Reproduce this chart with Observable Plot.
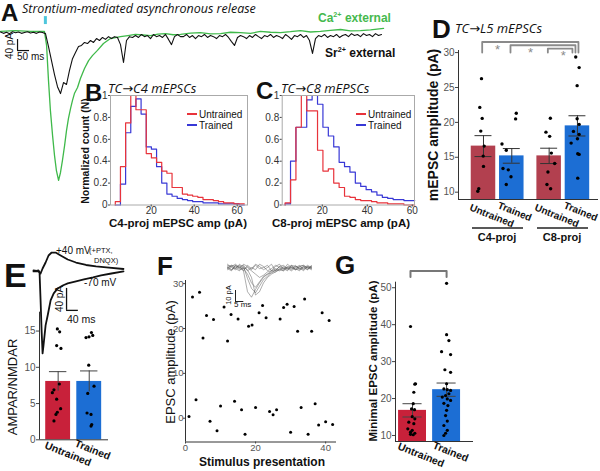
<!DOCTYPE html>
<html><head><meta charset="utf-8">
<script src="https://cdn.jsdelivr.net/npm/d3@7"></script>
<script src="https://cdn.jsdelivr.net/npm/@observablehq/plot@0.6"></script>
<style>
html,body{margin:0;padding:0;background:#fff;}
#fig{position:relative;width:600px;height:471px;overflow:hidden;background:#fff;}
.p{position:absolute;}
</style></head><body><div id="fig"></div>
<script>
// ---------------- DATA ----------------
// A: Sr2+ trace sampled every 12.5 ms (pA)
const aSampleMs = 12.5;
const aSrTrace = [2,-3,1,-4,3,-1,2,-3,0,3,-2,1,-3,2,0,
 -4,-51,-102,-153,-197,-222,-182,-189,-138,-95,
 -73,-51,-47,-36,-40,-29,-36,-22,-29,-18,
 -25,-15,-22,-15,-18,-44,-109,-29,-15,-18,
 -11,-18,-7,-15,-11,-22,-7,-15,-11,-18,
 -7,-25,-44,-15,-7,-15,
 -15,-7,-18,-11,-22,-11,-15,-7,-18,-11,
 -15,-22,-11,-15,-7,-18,-33,-47,-18,-11,
 -15,-22,-11,-18,-7,-15,-22,-11,-15,-7,
 -18,-11,-15,-22,-7,-15,-25,-11,-15,-7,
 -18,-11,-29,-76,-22,-11,-15,-7,-18,-11,
 -15,-7,-18,-11,-7,-15,-4,-11,-7,-15,
 -4,-11,-7,-15,-4,-11,-7];
const aCaTimes = [0,62,125,183,192,200,208,217,225,233,242,250,258,267,275,283,292,300,308,321,333,350,367,383,404,429,458,500,531,562,594,625,656,688,719,750,792,833,875,917,958,1000,1042,1083,1125,1167,1208,1250,1292,1333,1375,1417,1458,1500,1542,1596];
const aCaTrace = [4,7,4,4,-47,-175,-284,-375,-447,-502,-538,-509,-466,-411,-357,-313,-276,-247,-222,-200,-167,-131,-102,-84,-65,-40,-22,-15,-11,-7,-9,-11,-6,-4,-8,-7,-2,0,-5,-4,1,0,-3,4,1,0,3,7,2,4,8,11,6,7,10,15];
const aStimMs = 187;
const aStimMark = [29, 58];          // pA extent of the stimulus tick
const aScaleBar = {ms: 71, pA: -65.5, lenMs: 50, lenPA: 40};

// B / C histograms (normalized counts)
const bBinStart = 3.3, bBinWidth = 2.4;
const bUntrained = [0.03,0.35,0.75,1.0,0.87,0.87,0.47,0.43,0.39,0.31,0.29,0.16,0.16,0.10,0.09,0.08,0.07,0.05,0.05,0.04,0.03,0.02,0.02,0.01,0.01];
const bTrained   = [0.0,0.19,0.66,0.9,0.97,0.83,0.53,0.51,0.35,0.2,0.1,0.08,0.06,0.05,0.04,0.03,0.03,0.02,0.02,0.02,0.01,0.01,0.01,0.01,0.0];
const cBinStart = 3.5, cBinWidth = 2.4;
const cUntrained = [0.02,0.23,0.71,1.0,0.86,0.86,0.5,0.31,0.33,0.2,0.16,0.08,0.07,0.05,0.04,0.04,0.03,0.02,0.02,0.01,0.01,0.01,0.0,0.0];
const cTrained   = [0.01,0.4,0.71,0.71,0.96,1.0,0.92,0.71,0.63,0.53,0.39,0.35,0.3,0.2,0.17,0.14,0.12,0.09,0.07,0.06,0.05,0.05,0.04,0.04];
const histTicksY = [0,0.2,0.4,0.6,0.8,1];
const histTicksX = [20,40,60];

// D: TC->L5 mEPSC amplitude
const dProjections = ["C4-proj","C8-proj"];
const dGroups = ["Untrained","Trained"];
const dMeans = [16.6, 15.2, 15.2, 19.5];
const dSems  = [1.5, 1.05, 1.1, 1.45];
const dC4Untrained = [26.27,22.15,20.57,18.75,16.6,15.17,13.69,10.49,10.14];
const dC4UntrainedJit = [-2,-3.7,-1.3,-2.7,0.7,-0.3,0,-4.7,-5.7];
const dC4Trained = [21.3,20.5,16.9,16.0,13.4,13.2,12.2,11.1];
const dC4TrainedJit = [4.5,3.8,-9.8,-5.5,-8.8,-3.5,-0.8,-5.5];
const dC8Untrained = [20.6,18.6,18.0,15.6,14.1,12.9,11.1,10.5];
const dC8UntrainedJit = [1.2,-3.2,0.5,2.2,5.5,-1.2,-2.2,1.5];
const dC8Trained = [29.37,27.85,25.26,20.53,19.71,18.71,18.28,17.66,17.03,15.51,15.41,12.01];
const dC8TrainedJit = [-1.7,1.7,-0.3,-0.3,1.7,-4,1.7,0,-6.3,0.3,1.7,0.3];
const dBracketTops = [31.52, 31.05, 30.57];
const dBracketLeg = 30.0;
const dTicks = [10,15,20,25,30];

// E: AMPAR/NMDAR
const eMeans = [8.05, 8.05];
const eSems = [1.35, 1.45];
const eUntrained = [15.3,14.9,13.0,12.6,7.7,6.9,6.5,5.6,4.3,3.8,3.5,2.6];
const eUntrainedJit = [-0.8,1.5,-1.5,2.8,1.2,-4.2,-5.8,-1.5,2.5,-0.8,-2.2,-4.2];
const eTrained = [14.8,14.4,14.2,14.1,10.3,7.4,6.4,3.7,3.5,2.1,1.9];
const eTrainedJit = [2.2,3.5,-0.2,-3.2,-0.5,4.8,-1.5,-2.2,1.8,2.5,1.8];
const eTicks = [0,5,10,15];
// E inset traces (ms, pA)
const eNeg70Ms = [0,10.3,17,20.5,24,27.4,30.8,34,41,48,58,68.5,82,99,116,144,171,202,229,264,305];
const eNeg70pA = [0,-0.9,0,-3.6,-54.5,-109,-151,-136,-100,-82,-54.5,-41.8,-32.7,-27.3,-23.6,-20,-16.4,-12.7,-9.1,-5.5,-1.8];
const ePos40Ms = [0,17,24,30.8,41,51,61.6,75,92,116,144,178,212,247,305];
const ePos40pA = [-1.8,-1.8,-5.5,3.6,14.5,27.3,32.7,32.7,27.3,20,14.5,10,7.3,5.5,2.7];
const eScaleBar = {ms: 112, pA: -72.7, lenMs: 40, lenPA: 40};

// F: minimal stimulation
const fStim = [1,2,3,4,5,6,7,8,9,10,11,12,13,14,15,16,17,18,19,20,21,22,23,24,25,26,27,28,29,30,31,32,33,34,35,36,37,38,39,40,41,42];
const fAmp = [0.4,27.0,4.1,28.1,17.9,22.9,-0.7,22.0,-2.8,2.7,24.8,17.2,23.1,3.8,22.1,1.9,-3.6,20.5,20.8,2.4,23.5,25.1,22.4,1.5,0.8,1.9,22.1,24.7,25.4,-3.1,24.9,19.4,2.4,26.6,-3.6,19.4,3.2,-1.5,23.5,-0.8,21.8,-1.4];
const fTicksX = [0,20,40], fTicksY = [0,10,20,30];
const fInsetMs = [0,2.4,4.8,7.2,9.6,12,14.4,16.8,19.2,21.6,24,26.4,28.8,31.2,33.6,36,38.4,40.8,43.2,45.6,48,50.4];
const fInset1 = [-2,1,3,0,-3,2,-1,3,1,-2,0,3,-3,1,2,-1,-3,0,2,-2,1,0];
const fInset2 = [1,-2,0,2,-3,-22,-27,-20,-14,-9,-6,-5,-2,-3,0,-2,1,-1,-3,1,0,-2];
const fInset3 = [0,2,-1,-3,1,-10,-19,-23,-17,-11,-8,-4,-4,-1,-3,1,-1,2,-2,-1,2,0];
const fInset4 = [3,0,-2,1,2,-3,0,-2,3,1,-3,-1,2,0,-2,3,0,-2,1,2,-1,1];
const fInset5 = [-1,-3,2,0,-1,-6,-14,-18,-13,-8,-6,-3,-3,1,-1,-3,2,1,-1,0,-2,2];
const fInset6 = [2,1,-1,3,0,-2,-9,-25,-22,-14,-9,-6,-4,-2,-3,0,-2,1,0,-3,1,-1];
const fInset7 = [0,-2,2,-1,3,1,-2,2,-1,0,2,-3,1,3,-1,0,2,-2,-1,1,-2,1];
const fInset8 = [-1,2,1,-2,-1,0,-3,-6,-9,-7,-4,-3,-1,-2,1,-1,0,-2,1,2,0,-1];
const fScaleBar = {ms: 4.8, pA: -30.9, lenMs: 5, lenPA: 10};

// G: minimal EPSC amplitude
const gMeans = [16.8, 22.4];
const gSems = [1.8, 1.8];
const gUntrained = [39.5,24.0,23.9,21.7,18.6,17.2,17.0,15.1,14.5,13.6,13.2,11.8,11.4,10.9,10.6,10.2,10.3];
const gUntrainedJit = [-2,3,2.3,1.3,0.7,-1,2,-0.3,2.3,-3.7,1.3,-4.7,-0.3,-2,2.3,0.7,-2];
const gTrained = [51.2,37.3,35.7,32.7,31.9,27.8,27.1,24.0,22.6,22.4,22.2,21.3,20.8,20.4,19.9,19.5,18.7,18.1,16.8,15.4,13.9,12.7,11.4,10.6,10.0];
const gTrainedJit = [0,0,2.3,-5,4,-1.7,4,0,-2.7,0.7,4,2.3,-1,-4.3,0.7,4,-2.7,1.3,0,-1,0.7,-2.7,0.7,-1,-2.7];
const gTicks = [10,20,30,40,50];
const gBracket = {top: 54.5, leg: 52.9};

// ---------------- STYLE ----------------
const SANS = "'Liberation Sans', Arial, sans-serif";
const colU = "#c8213a", colT = "#1c6ed4", colUD = "#b2404f";
const hRed = "#e8333b", hBlue = "#3838d6";
const baseStyle = {fontFamily: SANS, fontSize: "10px", background: "none", overflow: "visible", color: "#444"};
const fig = document.getElementById("fig");
function place(svg, left, top) {
  const d = document.createElement("div"); d.className = "p";
  d.style.left = left + "px"; d.style.top = top + "px";
  d.style.width = svg.getAttribute("width") + "px";
  svg.style.maxWidth = "none";
  d.appendChild(svg); fig.appendChild(d);
}

// ---------------- A ----------------
{
  const sr = aSrTrace.map((v, i) => ({t: i * aSampleMs, v}));
  const ca = aCaTimes.map((t, i) => ({t, v: aCaTrace[i]}));
  const sb = aScaleBar;
  place(Plot.plot({
    width: 384, height: 172, margin: 0,
    x: {domain: [0, 1600], axis: null}, y: {domain: [-560, 65.6], axis: null},
    style: baseStyle,
    marks: [
      Plot.line(ca, {x: "t", y: "v", stroke: "#3fb94a", strokeWidth: 1.3}),
      Plot.line(sr, {x: "t", y: "v", stroke: "#111", strokeWidth: 1.1}),
      Plot.ruleX([aStimMs], {y1: aStimMark[0], y2: aStimMark[1], stroke: "#4ec6dc", strokeWidth: 3}),
      Plot.ruleX([sb], {x: "ms", y1: "pA", y2: d => d.pA + d.lenPA, stroke: "#111", strokeWidth: 1.2}),
      Plot.ruleY([sb], {y: "pA", x1: "ms", x2: d => d.ms + d.lenMs, stroke: "#111", strokeWidth: 1.2})
    ]
  }), 0, 14);
}

// ---------------- B / C histograms ----------------
function stepPts(vals, start, w) {
  const pts = [{x: start, y: 0}];
  vals.forEach((v, i) => pts.push({x: start + i * w, y: v}));
  pts.push({x: start + vals.length * w, y: vals[vals.length - 1]});
  return pts;
}
function hist(unt, tr, start, w, xdom, left, width, ml, mr) {
  place(Plot.plot({
    width, height: 145,
    marginLeft: ml, marginRight: mr, marginTop: 10, marginBottom: 25.5,
    x: {domain: xdom}, y: {domain: [0, 1]},
    style: baseStyle,
    marks: [
      Plot.line(stepPts(tr, start, w), {x: "x", y: "y", curve: "step-after", stroke: hBlue, strokeWidth: 1.2}),
      Plot.line(stepPts(unt, start, w), {x: "x", y: "y", curve: "step-after", stroke: hRed, strokeWidth: 1.2}),
      Plot.frame({stroke: "#aaa"}),
      Plot.axisX({ticks: histTicksX, tickSize: 2, tickPadding: 0, fill: "#333", label: null}),
      Plot.axisY({ticks: histTicksY, tickSize: 2, tickPadding: 1, fill: "#333", label: null,
        tickFormat: d => d === 0 ? "0" : d === 1 ? "1" : d3.format(".1f")(d)})
    ]
  }), left, 85);
}
hist(bUntrained, bTrained, bBinStart, bBinWidth, [1.07, 64.8], 80, 175, 30, 8);
hist(cUntrained, cTrained, cBinStart, cBinWidth, [2.2, 61.0], 250, 170, 31.7, 6);

// ---------------- D ----------------
{
  const unit = 28.3; // px per bar step
  const pos = (p, g) => g + p * 2.32;
  const bars = dMeans.map((m, i) => ({pos: pos(Math.floor(i / 2), i % 2), mean: m, sem: dSems[i], fill: i % 2 ? colT : colUD}));
  const sets = [[dC4Untrained, dC4UntrainedJit], [dC4Trained, dC4TrainedJit], [dC8Untrained, dC8UntrainedJit], [dC8Trained, dC8TrainedJit]];
  const dots = sets.flatMap(([vals, jit], i) => vals.map((v, k) => ({x: bars[i].pos + jit[k] / unit, y: v})));
  const legOff = [1, -2, -5];
  const brackets = dBracketTops.flatMap((top, i) => {
    const x0 = bars[i].pos - 1.3 / unit, x1 = bars[3].pos + legOff[i] / unit;
    return [{x: x0, y: dBracketLeg, k: i}, {x: x0, y: top, k: i}, {x: x1, y: top, k: i}, {x: x1, y: dBracketLeg, k: i}];
  });
  const stars = dBracketTops.map((top, i) => ({x: (bars[i].pos + bars[i + 1].pos) / 2, y: top}));
  const y0 = 8.95;
  place(Plot.plot({
    width: 180, height: 180, marginLeft: 38, marginRight: 2, marginTop: 20, marginBottom: 11,
    x: {domain: [-0.883, 4.064], axis: null}, y: {domain: [y0, 30.3]},
    style: baseStyle,
    marks: [
      Plot.rectY(bars, {x1: d => d.pos - 0.433, x2: d => d.pos + 0.433, y1: y0, y2: "mean", fill: "fill"}),
      Plot.ruleX(bars, {x: "pos", y1: d => d.mean - d.sem, y2: d => d.mean + d.sem, stroke: "#333"}),
      Plot.ruleY(bars, {y: d => d.mean + d.sem, x1: d => d.pos - 0.3, x2: d => d.pos + 0.3, stroke: "#333"}),
      Plot.ruleY(bars, {y: d => d.mean - d.sem, x1: d => d.pos - 0.3, x2: d => d.pos + 0.3, stroke: "#333"}),
      Plot.dot(dots, {x: "x", y: "y", r: 1.7, fill: "#000"}),
      Plot.ruleY([y0], {stroke: "#333"}),
      Plot.ruleX([-0.883], {stroke: "#333"}),
      Plot.line(brackets, {x: "x", y: "y", z: "k", stroke: "#8a8a8a", strokeWidth: 1.8}),
      Plot.text(stars, {x: "x", y: "y", text: () => "*", fill: "#8a8a8a", fontSize: 13, dy: 7.4}),
      Plot.axisY({ticks: dTicks, tickSize: 3, tickPadding: 1, fill: "#555", label: null})
    ]
  }), 420, 30);
}

// ---------------- E ----------------
{
  const neg = eNeg70Ms.map((t, i) => ({t, v: eNeg70pA[i]}));
  const posT = ePos40Ms.map((t, i) => ({t, v: ePos40pA[i]}));
  const sb = eScaleBar;
  place(Plot.plot({
    width: 90, height: 115, margin: 0,
    x: {domain: [0, 305], axis: null}, y: {domain: [-164, 45.5], axis: null},
    style: baseStyle,
    marks: [
      Plot.line(posT, {x: "t", y: "v", stroke: "#111", strokeWidth: 1.8}),
      Plot.line(neg, {x: "t", y: "v", stroke: "#111", strokeWidth: 1.8}),
      Plot.ruleX([sb], {x: "ms", y1: "pA", y2: d => d.pA + d.lenPA, stroke: "#111", strokeWidth: 1.3}),
      Plot.ruleY([sb], {y: "pA", x1: "ms", x2: d => d.ms + d.lenMs, stroke: "#111", strokeWidth: 1.3})
    ]
  }), 33, 245);

  const unit = 31.08;
  const bars = eMeans.map((m, i) => ({pos: i, mean: m, sem: eSems[i], fill: i ? colT : colU}));
  const dots = [[eUntrained, eUntrainedJit], [eTrained, eTrainedJit]].flatMap(([vals, jit], i) => vals.map((v, k) => ({x: i + jit[k] / unit, y: v})));
  place(Plot.plot({
    width: 105, height: 150, marginLeft: 29, marginRight: 7, marginTop: 11.7, marginBottom: 10.7,
    x: {domain: [-0.6, 1.62], axis: null}, y: {domain: [0, 17.6]},
    style: baseStyle,
    marks: [
      Plot.rectY(bars, {x1: d => d.pos - 0.4, x2: d => d.pos + 0.4, y1: 0, y2: "mean", fill: "fill"}),
      Plot.ruleX(bars, {x: "pos", y1: d => d.mean - d.sem, y2: d => d.mean + d.sem, stroke: "#444"}),
      Plot.ruleY(bars, {y: d => d.mean + d.sem, x1: d => d.pos - 0.28, x2: d => d.pos + 0.28, stroke: "#444"}),
      Plot.dot(dots, {x: "x", y: "y", r: 1.6, fill: "#000"}),
      Plot.ruleY([0], {stroke: "#333"}),
      Plot.ruleX([-0.6], {stroke: "#333"}),
      Plot.axisY({ticks: eTicks, tickSize: 3, tickPadding: 1, fill: "#555", label: null})
    ]
  }), 10, 300);
}

// ---------------- F ----------------
{
  const pts = fStim.map((s, i) => ({x: s, y: fAmp[i]}));
  place(Plot.plot({
    width: 190, height: 185, marginLeft: 35, marginRight: 4, marginTop: 10, marginBottom: 13.5,
    x: {domain: [0, 43.1]}, y: {domain: [-5.3, 30.7]},
    style: {...baseStyle, fontSize: "9.5px"},
    marks: [
      Plot.ruleX([0], {stroke: "#333"}),
      Plot.ruleY([-5.3], {stroke: "#333"}),
      Plot.dot(pts, {x: "x", y: "y", r: 1.5, fill: "#000"}),
      Plot.axisX({ticks: fTicksX, tickSize: 2, tickPadding: 0, fill: "#555", label: null}),
      Plot.axisY({ticks: fTicksY, tickSize: 2, tickPadding: 0, fill: "#555", label: null})
    ]
  }), 150, 270);
  const traces = [fInset1, fInset2, fInset3, fInset4, fInset5, fInset6, fInset7, fInset8]
    .flatMap((tr, k) => tr.map((v, i) => ({t: fInsetMs[i], v, k})));
  const sb = fScaleBar;
  place(Plot.plot({
    width: 85, height: 44, margin: 0,
    x: {domain: [0, 51], axis: null}, y: {domain: [-31.8, 8.2], axis: null},
    style: baseStyle,
    marks: [
      Plot.line(traces, {x: "t", y: "v", z: "k", stroke: "#555", strokeOpacity: 0.6, strokeWidth: 0.8}),
      Plot.ruleX([sb], {x: "ms", y1: "pA", y2: d => d.pA + d.lenPA, stroke: "#222", strokeWidth: 1}),
      Plot.ruleY([sb], {y: "pA", x1: "ms", x2: d => d.ms + d.lenMs, stroke: "#222", strokeWidth: 1})
    ]
  }), 227, 258);
}

// ---------------- G ----------------
{
  const unit = 34;
  const bars = gMeans.map((m, i) => ({pos: i, mean: m, sem: gSems[i], fill: i ? colT : colU}));
  const dots = [[gUntrained, gUntrainedJit], [gTrained, gTrainedJit]].flatMap(([vals, jit], i) => vals.map((v, k) => ({x: i + jit[k] / unit, y: v})));
  const br = [{x: bars[0].pos - 0.06, y: gBracket.leg}, {x: bars[0].pos - 0.06, y: gBracket.top}, {x: bars[1].pos, y: gBracket.top}, {x: bars[1].pos, y: gBracket.leg}];
  const y0 = 8.37;
  place(Plot.plot({
    width: 120, height: 193, marginLeft: 35, marginRight: 7, marginTop: 19.7, marginBottom: 14,
    x: {domain: [-0.5, 1.79], axis: null}, y: {domain: [y0, 51.5]},
    style: baseStyle,
    marks: [
      Plot.rectY(bars, {x1: d => d.pos - 0.41, x2: d => d.pos + 0.41, y1: y0, y2: "mean", fill: "fill"}),
      Plot.ruleX(bars, {x: "pos", y1: d => d.mean - d.sem, y2: d => d.mean + d.sem, stroke: "#444"}),
      Plot.ruleY(bars, {y: d => d.mean + d.sem, x1: d => d.pos - 0.28, x2: d => d.pos + 0.28, stroke: "#444"}),
      Plot.ruleY(bars, {y: d => d.mean - d.sem, x1: d => d.pos - 0.28, x2: d => d.pos + 0.28, stroke: "#444"}),
      Plot.dot(dots, {x: "x", y: "y", r: 1.6, fill: "#000"}),
      Plot.ruleY([y0], {stroke: "#333"}),
      Plot.ruleX([-0.5], {stroke: "#333"}),
      Plot.line(br, {x: "x", y: "y", stroke: "#777", strokeWidth: 2}),
      Plot.axisY({ticks: gTicks, tickSize: 3, tickPadding: 1, fill: "#555", label: null})
    ]
  }), 360, 262);
}

// ---------------- TEXT OVERLAY ----------------
const ov = d3.select(fig).append("svg").attr("width", 600).attr("height", 471)
  .style("position", "absolute").style("left", 0).style("top", 0);
function T(s, x, y, o = {}) {
  const t = ov.append("text").attr("x", x).attr("y", y)
    .attr("font-size", o.size || 11).attr("font-weight", o.bold ? "bold" : "normal")
    .attr("font-style", o.italic ? "italic" : "normal")
    .attr("font-family", o.font || SANS).attr("fill", o.fill || "#111")
    .attr("text-anchor", o.anchor || "start");
  if (o.rot) t.attr("transform", `rotate(${o.rot},${x},${y})`);
  if (Array.isArray(s)) {
    s.forEach(([str, sup]) => {
      const ts = t.append("tspan").text(str);
      if (sup) ts.attr("font-size", (o.size || 11) * 0.6).attr("dy", -(o.size || 11) * 0.4);
      else if (t.node().childNodes.length > 1) ts.attr("dy", (o.size || 11) * 0.4);
    });
  } else t.text(s);
  return t;
}
function L(x1, y1, x2, y2, stroke, w) {
  ov.append("line").attr("x1", x1).attr("y1", y1).attr("x2", x2).attr("y2", y2).attr("stroke", stroke).attr("stroke-width", w);
}
const ITAL = "'Open Sans', 'DejaVu Sans', sans-serif";
// A
T("A", 1, 21, {size: 24, bold: true});
T("Strontium-mediated asynchronous release", 22, 13, {size: 12.5, italic: true, font: ITAL});
T([["Ca"], ["2+", true], [" external"]], 318, 22, {size: 12, bold: true, fill: "#46b94e"});
T([["Sr"], ["2+", true], [" external"]], 325, 57, {size: 12, bold: true});
T("40 pA", 13, 46, {size: 10, rot: -90, anchor: "middle"});
T("50 ms", 17, 60, {size: 10});
// B
T("B", 85, 101, {size: 24, bold: true});
T("TC→C4 mEPSCs", 108, 93, {size: 13, italic: true, font: ITAL});
T("Normalized count (N)", 89, 151, {size: 10.5, bold: true, rot: -90, anchor: "middle"});
T("C4-proj mEPSC amp (pA)", 178, 227, {size: 11.5, bold: true, anchor: "middle"});
L(187, 114, 197, 114, hRed, 2); L(187, 125, 197, 125, hBlue, 2);
T("Untrained", 199, 117.5, {size: 10}); T("Trained", 199, 129, {size: 10});
// C
T("C", 256, 99, {size: 24, bold: true});
T("TC→C8 mEPSCs", 281, 93, {size: 13, italic: true, font: ITAL});
T("C8-proj mEPSC amp (pA)", 272, 227, {size: 11.5, bold: true});
L(356, 114, 366, 114, hRed, 2); L(356, 125, 366, 125, hBlue, 2);
T("Untrained", 368, 117.5, {size: 10}); T("Trained", 368, 129, {size: 10});
// D
T("D", 432, 38, {size: 26, bold: true});
T("TC→L5 mEPSCs", 455, 33, {size: 13, italic: true, font: ITAL});
T("mEPSC amplitude (pA)", 438, 125, {size: 14, bold: true, rot: -90, anchor: "middle"});
T("Untrained", 469, 210, {size: 10, bold: true, rot: 22});
T("Trained", 497, 208, {size: 10, bold: true, rot: 22});
T("Untrained", 534, 210, {size: 10, bold: true, rot: 22});
T("Trained", 563, 208, {size: 10, bold: true, rot: 22});
L(472, 228, 523, 228, "#222", 1.3); L(537, 228, 588, 228, "#222", 1.3);
T(dProjections[0], 497, 241, {size: 11, bold: true, anchor: "middle"});
T(dProjections[1], 562, 241, {size: 11, bold: true, anchor: "middle"});
// E
T("E", 4, 287, {size: 34, bold: true});
T("+40 mV", 56, 254, {size: 10});
T("(+PTX,", 89, 253, {size: 7.5}); T("DNQX)", 94, 263, {size: 7.5});
T("-70 mV", 84, 286, {size: 10});
T("40 pA", 63, 299, {size: 10, rot: -90, anchor: "middle"});
T("40 ms", 67, 323, {size: 10.5});
T("AMPAR/NMDAR", 17, 387, {size: 13, rot: -90, anchor: "middle"});
T("Untrained", 44, 448, {size: 10.5, bold: true, rot: 22});
T("Trained", 74, 446, {size: 10.5, bold: true, rot: 22});
// F
T("F", 157, 275, {size: 26, bold: true});
T("EPSC amplitude (pA)", 175, 362, {size: 13, rot: -90, anchor: "middle"});
T("Stimulus presentation", 262, 466, {size: 12, bold: true, anchor: "middle"});
T("10 pA", 231, 295, {size: 7.5, rot: -90, anchor: "middle"});
T("5 ms", 234, 307, {size: 8});
// G
T("G", 335, 274, {size: 26, bold: true});
T("Minimal EPSC amplitude (pA)", 377, 361, {size: 11.5, bold: true, rot: -90, anchor: "middle"});
T("Untrained", 397, 449, {size: 10.5, bold: true, rot: 22});
T("Trained", 432, 448, {size: 10.5, bold: true, rot: 22});
</script></body></html>
